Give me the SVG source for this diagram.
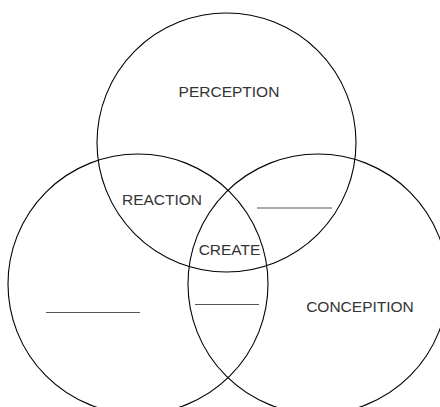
<svg xmlns="http://www.w3.org/2000/svg" width="440" height="407" viewBox="0 0 440 407">
<style>
.c{fill:none;stroke:#000;stroke-width:1.1}
.t{font-family:"Liberation Sans",Arial,sans-serif;font-size:15.5px;fill:#333;text-anchor:middle}
.b{stroke:#555;stroke-width:1.2}
</style>
<rect width="440" height="407" fill="#fff"/>
<g id="perception"><circle class="c" cx="226.5" cy="142.5" r="129.5"/><text class="t" x="229" y="97">PERCEPTION</text></g>
<g id="left"><circle class="c" cx="138" cy="284" r="130"/><line class="b" x1="46" y1="312.5" x2="140" y2="312.5"/></g>
<g id="conception"><circle class="c" cx="318" cy="284" r="130"/><text class="t" x="360" y="312">CONCEPITION</text></g>
<g id="reaction"><text class="t" x="162" y="205">REACTION</text></g>
<g id="top-right"><line class="b" x1="257" y1="208" x2="332" y2="208"/></g>
<g id="create"><text class="t" x="229.5" y="255">CREATE</text></g>
<g id="bottom-mid"><line class="b" x1="195" y1="304.5" x2="259" y2="304.5"/></g>
<g id="connectors"></g>
</svg>
